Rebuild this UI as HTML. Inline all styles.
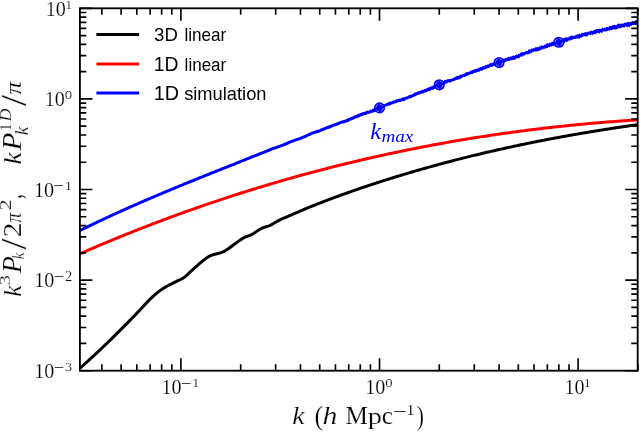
<!DOCTYPE html><html><head><meta charset="utf-8"><style>html,body{margin:0;padding:0;background:#fff;width:640px;height:434px;overflow:hidden}svg{display:block;filter:blur(0.4px)}</style></head><body>
<svg width="640" height="434" viewBox="0 0 640 434">
<rect width="640" height="434" fill="#fff"/>
<defs><clipPath id="c"><rect x="79.9" y="8.3" width="557.8" height="362.4"/></clipPath></defs>
<g clip-path="url(#c)" fill="none" stroke-linejoin="round" stroke-linecap="butt">
<path d="M80.00,368.20 L81.00,367.31 L82.00,366.41 L83.00,365.51 L84.00,364.61 L85.00,363.71 L86.00,362.80 L87.00,361.90 L88.00,360.99 L89.00,360.07 L90.00,359.16 L91.00,358.24 L92.00,357.32 L93.00,356.40 L94.00,355.48 L95.00,354.55 L96.00,353.62 L97.00,352.69 L98.00,351.75 L99.00,350.81 L100.00,349.87 L101.00,348.93 L102.00,347.98 L103.00,347.03 L104.00,346.08 L105.00,345.13 L106.00,344.17 L107.00,343.21 L108.00,342.24 L109.00,341.27 L110.00,340.30 L111.00,339.33 L112.00,338.35 L113.00,337.37 L114.00,336.38 L115.00,335.39 L116.00,334.41 L117.00,333.41 L118.00,332.42 L119.00,331.42 L120.00,330.42 L121.00,329.42 L122.00,328.42 L123.00,327.41 L124.00,326.41 L125.00,325.40 L126.00,324.39 L127.00,323.38 L128.00,322.37 L129.00,321.35 L130.00,320.33 L131.00,319.31 L132.00,318.28 L133.00,317.25 L134.00,316.22 L135.00,315.18 L136.00,314.14 L137.00,313.09 L138.00,312.03 L139.00,310.97 L140.00,309.90 L141.00,308.82 L142.00,307.75 L143.00,306.66 L144.00,305.58 L145.00,304.51 L146.00,303.44 L147.00,302.38 L148.00,301.34 L149.00,300.31 L150.00,299.30 L151.00,298.31 L152.00,297.35 L153.00,296.40 L154.00,295.49 L155.00,294.60 L156.00,293.74 L157.00,292.91 L158.00,292.11 L159.00,291.35 L160.00,290.62 L161.00,289.92 L162.00,289.25 L163.00,288.61 L164.00,287.99 L165.00,287.39 L166.00,286.81 L167.00,286.25 L168.00,285.70 L169.00,285.16 L170.00,284.64 L171.00,284.12 L172.00,283.61 L173.00,283.11 L174.00,282.62 L175.00,282.13 L176.00,281.65 L177.00,281.17 L178.00,280.69 L179.00,280.21 L180.00,279.73 L181.00,279.22 L182.00,278.68 L183.00,278.10 L184.00,277.45 L185.00,276.73 L186.00,275.93 L187.00,275.05 L188.00,274.12 L189.00,273.16 L190.00,272.20 L191.00,271.25 L192.00,270.32 L193.00,269.41 L194.00,268.50 L195.00,267.60 L196.00,266.71 L197.00,265.82 L198.00,264.94 L199.00,264.07 L200.00,263.21 L201.00,262.35 L202.00,261.51 L203.00,260.69 L204.00,259.88 L205.00,259.10 L206.00,258.36 L207.00,257.65 L208.00,257.01 L209.00,256.42 L210.00,255.90 L211.00,255.46 L212.00,255.08 L213.00,254.75 L214.00,254.47 L215.00,254.21 L216.00,253.97 L217.00,253.72 L218.00,253.47 L219.00,253.20 L220.00,252.90 L221.00,252.57 L222.00,252.20 L223.00,251.78 L224.00,251.32 L225.00,250.80 L226.00,250.22 L227.00,249.59 L228.00,248.92 L229.00,248.21 L230.00,247.48 L231.00,246.73 L232.00,245.98 L233.00,245.23 L234.00,244.48 L235.00,243.74 L236.00,243.02 L237.00,242.30 L238.00,241.59 L239.00,240.89 L240.00,240.20 L241.00,239.52 L242.00,238.87 L243.00,238.25 L244.00,237.68 L245.00,237.17 L246.00,236.73 L247.00,236.36 L248.00,236.02 L249.00,235.69 L250.00,235.33 L251.00,234.92 L252.00,234.42 L253.00,233.83 L254.00,233.19 L255.00,232.51 L256.00,231.82 L257.00,231.13 L258.00,230.47 L259.00,229.84 L260.00,229.25 L261.00,228.71 L262.00,228.22 L263.00,227.80 L264.00,227.43 L265.00,227.10 L266.00,226.80 L267.00,226.49 L268.00,226.17 L269.00,225.81 L270.00,225.40 L271.00,224.92 L272.00,224.39 L273.00,223.81 L274.00,223.20 L275.00,222.59 L276.00,221.98 L277.00,221.38 L278.00,220.83 L279.00,220.31 L280.00,219.82 L281.00,219.36 L282.00,218.92 L283.00,218.49 L284.00,218.07 L285.00,217.65 L286.00,217.22 L287.00,216.79 L288.00,216.35 L289.00,215.91 L290.00,215.46 L291.00,215.02 L292.00,214.59 L293.00,214.15 L294.00,213.72 L295.00,213.29 L296.00,212.87 L297.00,212.44 L298.00,212.01 L299.00,211.58 L300.00,211.15 L301.00,210.72 L302.00,210.29 L303.00,209.86 L304.00,209.43 L305.00,209.00 L306.00,208.58 L307.00,208.16 L308.00,207.75 L309.00,207.34 L310.00,206.94 L311.00,206.54 L312.00,206.14 L313.00,205.75 L314.00,205.37 L315.00,204.99 L316.00,204.60 L317.00,204.20 L318.00,203.81 L319.00,203.42 L320.00,203.03 L321.00,202.64 L322.00,202.25 L323.00,201.86 L324.00,201.48 L325.00,201.10 L326.00,200.71 L327.00,200.33 L328.00,199.95 L329.00,199.58 L330.00,199.20 L331.00,198.82 L332.00,198.45 L333.00,198.07 L334.00,197.70 L335.00,197.33 L336.00,196.96 L337.00,196.59 L338.00,196.23 L339.00,195.86 L340.00,195.50 L341.00,195.13 L342.00,194.77 L343.00,194.41 L344.00,194.05 L345.00,193.69 L346.00,193.34 L347.00,192.98 L348.00,192.62 L349.00,192.27 L350.00,191.92 L351.00,191.57 L352.00,191.21 L353.00,190.87 L354.00,190.52 L355.00,190.17 L356.00,189.82 L357.00,189.48 L358.00,189.13 L359.00,188.79 L360.00,188.45 L361.00,188.11 L362.00,187.77 L363.00,187.43 L364.00,187.09 L365.00,186.76 L366.00,186.42 L367.00,186.09 L368.00,185.75 L369.00,185.42 L370.00,185.09 L371.00,184.76 L372.00,184.43 L373.00,184.10 L374.00,183.77 L375.00,183.45 L376.00,183.12 L377.00,182.80 L378.00,182.47 L379.00,182.15 L380.00,181.83 L381.00,181.51 L382.00,181.19 L383.00,180.87 L384.00,180.55 L385.00,180.23 L386.00,179.91 L387.00,179.60 L388.00,179.28 L389.00,178.97 L390.00,178.66 L391.00,178.34 L392.00,178.03 L393.00,177.72 L394.00,177.41 L395.00,177.11 L396.00,176.80 L397.00,176.49 L398.00,176.19 L399.00,175.88 L400.00,175.58 L401.00,175.27 L402.00,174.97 L403.00,174.67 L404.00,174.37 L405.00,174.07 L406.00,173.77 L407.00,173.47 L408.00,173.17 L409.00,172.88 L410.00,172.58 L411.00,172.29 L412.00,172.00 L413.00,171.70 L414.00,171.41 L415.00,171.12 L416.00,170.83 L417.00,170.54 L418.00,170.25 L419.00,169.96 L420.00,169.68 L421.00,169.39 L422.00,169.11 L423.00,168.82 L424.00,168.54 L425.00,168.26 L426.00,167.97 L427.00,167.69 L428.00,167.41 L429.00,167.13 L430.00,166.86 L431.00,166.58 L432.00,166.30 L433.00,166.02 L434.00,165.75 L435.00,165.48 L436.00,165.20 L437.00,164.93 L438.00,164.66 L439.00,164.39 L440.00,164.12 L441.00,163.85 L442.00,163.58 L443.00,163.31 L444.00,163.04 L445.00,162.78 L446.00,162.51 L447.00,162.25 L448.00,161.98 L449.00,161.72 L450.00,161.46 L451.00,161.20 L452.00,160.94 L453.00,160.68 L454.00,160.42 L455.00,160.16 L456.00,159.90 L457.00,159.65 L458.00,159.39 L459.00,159.14 L460.00,158.88 L461.00,158.63 L462.00,158.38 L463.00,158.12 L464.00,157.87 L465.00,157.62 L466.00,157.37 L467.00,157.12 L468.00,156.88 L469.00,156.63 L470.00,156.38 L471.00,156.14 L472.00,155.89 L473.00,155.65 L474.00,155.40 L475.00,155.16 L476.00,154.92 L477.00,154.68 L478.00,154.44 L479.00,154.20 L480.00,153.96 L481.00,153.72 L482.00,153.48 L483.00,153.25 L484.00,153.01 L485.00,152.78 L486.00,152.54 L487.00,152.31 L488.00,152.08 L489.00,151.84 L490.00,151.61 L491.00,151.38 L492.00,151.15 L493.00,150.92 L494.00,150.69 L495.00,150.47 L496.00,150.24 L497.00,150.01 L498.00,149.79 L499.00,149.56 L500.00,149.34 L501.00,149.11 L502.00,148.89 L503.00,148.67 L504.00,148.45 L505.00,148.23 L506.00,148.01 L507.00,147.79 L508.00,147.57 L509.00,147.35 L510.00,147.14 L511.00,146.92 L512.00,146.70 L513.00,146.49 L514.00,146.27 L515.00,146.06 L516.00,145.85 L517.00,145.64 L518.00,145.42 L519.00,145.21 L520.00,145.00 L521.00,144.79 L522.00,144.59 L523.00,144.38 L524.00,144.17 L525.00,143.96 L526.00,143.76 L527.00,143.55 L528.00,143.35 L529.00,143.14 L530.00,142.94 L531.00,142.74 L532.00,142.54 L533.00,142.33 L534.00,142.13 L535.00,141.93 L536.00,141.73 L537.00,141.54 L538.00,141.34 L539.00,141.14 L540.00,140.94 L541.00,140.75 L542.00,140.55 L543.00,140.36 L544.00,140.16 L545.00,139.97 L546.00,139.78 L547.00,139.58 L548.00,139.39 L549.00,139.20 L550.00,139.01 L551.00,138.82 L552.00,138.63 L553.00,138.44 L554.00,138.26 L555.00,138.07 L556.00,137.88 L557.00,137.70 L558.00,137.51 L559.00,137.33 L560.00,137.14 L561.00,136.96 L562.00,136.78 L563.00,136.60 L564.00,136.41 L565.00,136.23 L566.00,136.05 L567.00,135.87 L568.00,135.69 L569.00,135.52 L570.00,135.34 L571.00,135.16 L572.00,134.98 L573.00,134.81 L574.00,134.63 L575.00,134.46 L576.00,134.28 L577.00,134.11 L578.00,133.94 L579.00,133.76 L580.00,133.59 L581.00,133.42 L582.00,133.25 L583.00,133.08 L584.00,132.91 L585.00,132.74 L586.00,132.57 L587.00,132.41 L588.00,132.24 L589.00,132.07 L590.00,131.91 L591.00,131.74 L592.00,131.58 L593.00,131.41 L594.00,131.25 L595.00,131.08 L596.00,130.92 L597.00,130.76 L598.00,130.60 L599.00,130.44 L600.00,130.28 L601.00,130.12 L602.00,129.96 L603.00,129.80 L604.00,129.64 L605.00,129.48 L606.00,129.33 L607.00,129.17 L608.00,129.01 L609.00,128.86 L610.00,128.70 L611.00,128.55 L612.00,128.39 L613.00,128.24 L614.00,128.09 L615.00,127.94 L616.00,127.78 L617.00,127.63 L618.00,127.48 L619.00,127.33 L620.00,127.18 L621.00,127.03 L622.00,126.89 L623.00,126.74 L624.00,126.59 L625.00,126.44 L626.00,126.30 L627.00,126.15 L628.00,126.01 L629.00,125.86 L630.00,125.72 L631.00,125.57 L632.00,125.43 L633.00,125.29 L634.00,125.14 L635.00,125.00 L636.00,124.86 L637.00,124.72" stroke="#000" stroke-width="3"/>
<path d="M80.00,253.75 L81.50,253.09 L83.00,252.44 L84.50,251.79 L86.00,251.14 L87.50,250.49 L89.00,249.84 L90.50,249.20 L92.00,248.55 L93.50,247.91 L95.00,247.27 L96.50,246.63 L98.00,245.99 L99.50,245.36 L101.00,244.73 L102.50,244.09 L104.00,243.46 L105.50,242.84 L107.00,242.21 L108.50,241.58 L110.00,240.96 L111.50,240.34 L113.00,239.72 L114.50,239.10 L116.00,238.49 L117.50,237.87 L119.00,237.26 L120.50,236.65 L122.00,236.04 L123.50,235.43 L125.00,234.83 L126.50,234.22 L128.00,233.62 L129.50,233.02 L131.00,232.42 L132.50,231.83 L134.00,231.23 L135.50,230.64 L137.00,230.04 L138.50,229.45 L140.00,228.87 L141.50,228.28 L143.00,227.69 L144.50,227.11 L146.00,226.53 L147.50,225.95 L149.00,225.37 L150.50,224.79 L152.00,224.22 L153.50,223.65 L155.00,223.07 L156.50,222.50 L158.00,221.94 L159.50,221.37 L161.00,220.80 L162.50,220.24 L164.00,219.68 L165.50,219.12 L167.00,218.56 L168.50,218.01 L170.00,217.45 L171.50,216.90 L173.00,216.35 L174.50,215.80 L176.00,215.25 L177.50,214.70 L179.00,214.16 L180.50,213.61 L182.00,213.07 L183.50,212.53 L185.00,212.00 L186.50,211.46 L188.00,210.93 L189.50,210.39 L191.00,209.86 L192.50,209.33 L194.00,208.80 L195.50,208.28 L197.00,207.75 L198.50,207.23 L200.00,206.71 L201.50,206.19 L203.00,205.67 L204.50,205.15 L206.00,204.64 L207.50,204.13 L209.00,203.61 L210.50,203.10 L212.00,202.60 L213.50,202.09 L215.00,201.58 L216.50,201.08 L218.00,200.58 L219.50,200.08 L221.00,199.58 L222.50,199.09 L224.00,198.59 L225.50,198.10 L227.00,197.60 L228.50,197.11 L230.00,196.63 L231.50,196.14 L233.00,195.65 L234.50,195.17 L236.00,194.69 L237.50,194.21 L239.00,193.73 L240.50,193.25 L242.00,192.78 L243.50,192.30 L245.00,191.83 L246.50,191.36 L248.00,190.89 L249.50,190.42 L251.00,189.96 L252.50,189.49 L254.00,189.03 L255.50,188.57 L257.00,188.11 L258.50,187.65 L260.00,187.20 L261.50,186.74 L263.00,186.29 L264.50,185.84 L266.00,185.39 L267.50,184.94 L269.00,184.49 L270.50,184.05 L272.00,183.60 L273.50,183.16 L275.00,182.72 L276.50,182.28 L278.00,181.85 L279.50,181.41 L281.00,180.98 L282.50,180.54 L284.00,180.11 L285.50,179.68 L287.00,179.26 L288.50,178.83 L290.00,178.41 L291.50,177.98 L293.00,177.56 L294.50,177.14 L296.00,176.72 L297.50,176.31 L299.00,175.89 L300.50,175.48 L302.00,175.07 L303.50,174.66 L305.00,174.25 L306.50,173.84 L308.00,173.43 L309.50,173.03 L311.00,172.63 L312.50,172.23 L314.00,171.83 L315.50,171.43 L317.00,171.03 L318.50,170.64 L320.00,170.25 L321.50,169.85 L323.00,169.46 L324.50,169.08 L326.00,168.69 L327.50,168.30 L329.00,167.92 L330.50,167.54 L332.00,167.16 L333.50,166.78 L335.00,166.40 L336.50,166.02 L338.00,165.65 L339.50,165.28 L341.00,164.90 L342.50,164.53 L344.00,164.17 L345.50,163.80 L347.00,163.43 L348.50,163.07 L350.00,162.71 L351.50,162.35 L353.00,161.99 L354.50,161.63 L356.00,161.27 L357.50,160.92 L359.00,160.56 L360.50,160.21 L362.00,159.86 L363.50,159.51 L365.00,159.17 L366.50,158.82 L368.00,158.48 L369.50,158.13 L371.00,157.79 L372.50,157.45 L374.00,157.12 L375.50,156.78 L377.00,156.44 L378.50,156.11 L380.00,155.78 L381.50,155.45 L383.00,155.12 L384.50,154.79 L386.00,154.46 L387.50,154.14 L389.00,153.82 L390.50,153.50 L392.00,153.17 L393.50,152.86 L395.00,152.54 L396.50,152.22 L398.00,151.91 L399.50,151.60 L401.00,151.29 L402.50,150.98 L404.00,150.67 L405.50,150.36 L407.00,150.05 L408.50,149.75 L410.00,149.45 L411.50,149.15 L413.00,148.85 L414.50,148.55 L416.00,148.25 L417.50,147.96 L419.00,147.67 L420.50,147.37 L422.00,147.08 L423.50,146.79 L425.00,146.51 L426.50,146.22 L428.00,145.93 L429.50,145.65 L431.00,145.37 L432.50,145.09 L434.00,144.81 L435.50,144.53 L437.00,144.26 L438.50,143.98 L440.00,143.71 L441.50,143.44 L443.00,143.17 L444.50,142.90 L446.00,142.63 L447.50,142.37 L449.00,142.10 L450.50,141.84 L452.00,141.58 L453.50,141.32 L455.00,141.06 L456.50,140.80 L458.00,140.54 L459.50,140.29 L461.00,140.04 L462.50,139.79 L464.00,139.53 L465.50,139.29 L467.00,139.04 L468.50,138.79 L470.00,138.55 L471.50,138.31 L473.00,138.06 L474.50,137.82 L476.00,137.59 L477.50,137.35 L479.00,137.11 L480.50,136.88 L482.00,136.64 L483.50,136.41 L485.00,136.18 L486.50,135.95 L488.00,135.73 L489.50,135.50 L491.00,135.28 L492.50,135.05 L494.00,134.83 L495.50,134.61 L497.00,134.39 L498.50,134.17 L500.00,133.96 L501.50,133.74 L503.00,133.53 L504.50,133.32 L506.00,133.11 L507.50,132.90 L509.00,132.69 L510.50,132.48 L512.00,132.28 L513.50,132.07 L515.00,131.87 L516.50,131.67 L518.00,131.47 L519.50,131.27 L521.00,131.08 L522.50,130.88 L524.00,130.69 L525.50,130.49 L527.00,130.30 L528.50,130.11 L530.00,129.92 L531.50,129.74 L533.00,129.55 L534.50,129.37 L536.00,129.18 L537.50,129.00 L539.00,128.82 L540.50,128.64 L542.00,128.47 L543.50,128.29 L545.00,128.11 L546.50,127.94 L548.00,127.77 L549.50,127.60 L551.00,127.43 L552.50,127.26 L554.00,127.09 L555.50,126.93 L557.00,126.76 L558.50,126.60 L560.00,126.44 L561.50,126.28 L563.00,126.12 L564.50,125.96 L566.00,125.81 L567.50,125.65 L569.00,125.50 L570.50,125.35 L572.00,125.20 L573.50,125.05 L575.00,124.90 L576.50,124.75 L578.00,124.61 L579.50,124.47 L581.00,124.32 L582.50,124.18 L584.00,124.04 L585.50,123.90 L587.00,123.77 L588.50,123.63 L590.00,123.49 L591.50,123.36 L593.00,123.23 L594.50,123.10 L596.00,122.97 L597.50,122.84 L599.00,122.71 L600.50,122.59 L602.00,122.47 L603.50,122.34 L605.00,122.22 L606.50,122.10 L608.00,121.98 L609.50,121.86 L611.00,121.75 L612.50,121.63 L614.00,121.52 L615.50,121.41 L617.00,121.30 L618.50,121.19 L620.00,121.08 L621.50,120.97 L623.00,120.86 L624.50,120.76 L626.00,120.66 L627.50,120.55 L629.00,120.45 L630.50,120.35 L632.00,120.26 L633.50,120.16 L635.00,120.06 L636.50,119.97 L637.70,119.89" stroke="#f00" stroke-width="3"/>
<path d="M78.33,229.66 L79.04,229.31 L79.74,228.96 L80.44,228.62 L81.14,228.27 L81.84,227.93 L82.54,227.58 L83.24,227.24 L83.94,226.90 L84.64,226.55 L85.34,226.21 L86.04,225.87 L86.74,225.53 L87.45,225.19 L88.15,224.85 L88.85,224.51 L89.55,224.18 L90.25,223.84 L90.95,223.50 L91.65,223.16 L92.35,222.83 L93.05,222.49 L93.75,222.16 L94.45,221.82 L95.16,221.49 L95.86,221.16 L96.56,220.82 L97.26,220.49 L97.96,220.16 L98.66,219.83 L99.36,219.50 L100.06,219.17 L100.76,218.84 L101.46,218.51 L102.16,218.18 L102.86,217.85 L103.57,217.52 L104.27,217.20 L104.97,216.87 L105.67,216.54 L106.37,216.22 L107.07,215.89 L107.77,215.57 L108.47,215.24 L109.17,214.92 L109.87,214.60 L110.57,214.27 L111.27,213.95 L111.97,213.63 L112.68,213.31 L113.38,212.99 L114.08,212.67 L114.78,212.35 L115.48,212.03 L116.18,211.71 L116.88,211.39 L117.58,211.07 L118.28,210.75 L118.98,210.44 L119.68,210.12 L120.38,209.80 L121.08,209.49 L121.78,209.17 L122.49,208.86 L123.19,208.54 L123.89,208.23 L124.59,207.92 L125.29,207.60 L125.99,207.29 L126.69,206.98 L127.39,206.66 L128.09,206.35 L128.79,206.04 L129.49,205.73 L130.19,205.42 L130.89,205.11 L131.59,204.80 L132.29,204.49 L133.00,204.18 L133.70,203.87 L134.40,203.57 L135.10,203.26 L135.80,202.95 L136.50,202.65 L137.20,202.34 L137.90,202.03 L138.60,201.73 L139.30,201.42 L140.00,201.12 L140.70,200.81 L141.40,200.51 L142.10,200.20 L142.80,199.90 L143.50,199.60 L144.21,199.30 L144.91,198.99 L145.61,198.69 L146.31,198.39 L147.01,198.09 L147.71,197.79 L148.41,197.49 L149.11,197.19 L149.81,196.89 L150.51,196.59 L151.21,196.29 L151.91,195.99 L152.61,195.69 L153.31,195.39 L154.01,195.09 L154.71,194.80 L155.41,194.50 L156.11,194.20 L156.82,193.90 L157.52,193.61 L158.22,193.31 L158.92,193.02 L159.62,192.72 L160.32,192.43 L161.02,192.13 L161.72,191.84 L162.42,191.54 L163.12,191.25 L163.82,190.95 L164.52,190.66 L165.22,190.37 L165.92,190.08 L166.62,189.78 L167.32,189.49 L168.02,189.20 L168.72,188.91 L169.42,188.61 L170.12,188.32 L170.82,188.03 L171.53,187.74 L172.23,187.45 L172.93,187.16 L173.63,186.87 L174.33,186.58 L175.03,186.29 L175.73,186.00 L176.43,185.71 L177.13,185.43 L177.83,185.14 L178.53,184.85 L179.23,184.56 L179.93,184.27 L180.63,183.99 L181.33,183.70 L182.03,183.41 L182.73,183.12 L183.43,182.84 L184.13,182.55 L184.83,182.26 L185.53,181.98 L186.23,181.69 L186.93,181.41 L187.63,181.12 L188.33,180.84 L189.03,180.55 L189.74,180.27 L190.44,179.98 L191.14,179.70 L191.84,179.41 L192.54,179.13 L193.24,178.85 L193.94,178.56 L194.64,178.28 L195.34,177.99 L196.04,177.71 L196.74,177.43 L197.44,177.15 L198.14,176.86 L198.84,176.58 L199.54,176.30 L200.24,176.02 L200.94,175.73 L201.64,175.45 L202.34,175.17 L203.04,174.89 L203.74,174.61 L204.44,174.33 L205.14,174.04 L205.84,173.76 L206.54,173.48 L207.24,173.20 L207.94,172.92 L208.64,172.64 L209.34,172.36 L210.04,172.08 L210.74,171.80 L211.44,171.52 L212.14,171.24 L212.84,170.96 L213.54,170.68 L214.24,170.40 L214.94,170.12 L215.64,169.84 L216.34,169.56 L217.04,169.28 L217.74,169.00 L218.44,168.72 L219.14,168.44 L219.84,168.17 L220.55,167.89 L221.25,167.61 L221.95,167.33 L222.65,167.05 L223.35,166.77 L224.05,166.49 L224.75,166.22 L225.45,165.94 L226.15,165.66 L226.85,165.38 L227.55,165.10 L228.25,164.83 L228.95,164.55 L229.65,164.27 L230.35,164.00 L231.05,163.72 L231.75,163.45 L232.45,163.18 L233.15,162.91 L233.85,162.63 L234.55,162.36 L235.25,162.08 L235.95,161.80 L236.65,161.51 L237.35,161.23 L238.05,160.94 L238.75,160.66 L239.45,160.37 L240.15,160.08 L240.85,159.78 L241.55,159.50 L242.25,159.21 L242.95,158.93 L243.65,158.66 L244.35,158.38 L245.05,158.10 L245.75,157.83 L246.45,157.53 L247.15,157.27 L247.85,156.98 L248.55,156.70 L249.26,156.45 L249.95,156.14 L250.65,155.87 L251.35,155.57 L252.05,155.29 L252.75,155.01 L253.44,154.70 L254.16,154.47 L254.85,154.15 L255.56,153.89 L256.26,153.64 L256.94,153.33 L257.65,153.08 L258.34,152.79 L259.05,152.55 L259.76,152.32 L260.44,152.00 L261.17,151.82 L261.87,151.56 L262.54,151.23 L263.26,150.98 L263.96,150.69 L264.64,150.34 L265.36,150.10 L266.04,149.74 L266.75,149.47 L267.46,149.20 L268.18,148.93 L268.87,148.62 L269.53,148.25 L270.26,148.05 L270.97,147.82 L271.67,147.56 L272.33,147.23 L273.07,147.08 L273.74,146.75 L274.48,146.60 L275.13,146.23 L275.85,146.05 L276.58,145.87 L277.23,145.48 L277.97,145.32 L278.64,145.00 L279.35,144.77 L280.08,144.59 L280.78,144.33 L281.48,144.07 L282.18,143.81 L282.89,143.57 L283.59,143.30 L284.22,142.84 L284.99,142.71 L285.66,142.33 L286.39,142.10 L287.08,141.78 L287.74,141.36 L288.42,141.02 L289.16,140.81 L289.90,140.62 L290.52,140.13 L291.30,140.07 L291.97,139.75 L292.66,139.49 L293.32,139.17 L294.03,138.96 L294.75,138.78 L295.47,138.60 L296.13,138.26 L296.83,138.01 L297.52,137.76 L298.24,137.54 L299.00,137.43 L299.68,137.10 L300.36,136.77 L301.06,136.49 L301.73,136.12 L302.49,136.00 L303.14,135.61 L303.87,135.39 L304.53,134.98 L305.29,134.82 L305.96,134.42 L306.70,134.18 L307.39,133.81 L308.01,133.26 L308.78,133.10 L309.41,132.59 L310.15,132.36 L310.91,132.19 L311.52,131.67 L312.31,131.64 L312.92,131.17 L313.71,131.22 L314.33,130.81 L315.09,130.77 L315.77,130.52 L316.40,130.12 L317.15,130.07 L317.83,129.79 L318.52,129.52 L319.30,129.46 L319.91,128.93 L320.60,128.59 L321.40,128.54 L322.04,128.09 L322.78,127.87 L323.42,127.40 L324.21,127.34 L324.85,126.88 L325.51,126.49 L326.22,126.24 L327.00,126.21 L327.60,125.70 L328.39,125.67 L329.00,125.21 L329.75,125.08 L330.50,124.96 L331.11,124.50 L331.80,124.21 L332.52,123.99 L333.18,123.61 L333.98,123.61 L334.68,123.33 L335.40,123.08 L336.04,122.64 L336.76,122.41 L337.47,122.14 L338.15,121.81 L338.88,121.62 L339.62,121.48 L340.25,121.05 L340.98,120.91 L341.65,120.62 L342.27,120.20 L343.09,120.32 L343.72,119.91 L344.41,119.69 L345.18,119.64 L345.84,119.32 L346.46,118.85 L347.26,118.86 L347.90,118.40 L348.58,118.04 L349.36,117.96 L349.95,117.36 L350.71,117.23 L351.43,116.98 L352.09,116.58 L352.85,116.41 L353.49,115.97 L354.27,115.87 L354.85,115.25 L355.62,115.12 L356.38,114.96 L357.04,114.56 L357.65,114.02 L358.37,113.76 L359.13,113.61 L359.86,113.39 L360.55,113.11 L361.13,112.55 L362.00,112.77 L362.55,112.15 L363.25,111.95 L364.08,112.07 L364.76,111.79 L365.41,111.45 L366.06,111.11 L366.73,110.81 L367.42,110.57 L368.27,110.72 L368.99,110.54 L369.62,110.14 L370.31,109.86 L370.99,109.57 L371.80,109.64 L372.39,109.10 L373.03,108.70 L373.73,108.45 L374.42,108.15 L375.12,107.86 L375.81,107.52 L376.72,107.70 L377.22,106.86 L378.07,106.90 L378.75,106.54 L379.42,106.12 L380.01,105.49 L380.79,105.37 L381.55,105.20 L382.24,104.89 L382.82,104.28 L383.53,104.04 L384.39,104.17 L385.07,103.82 L385.74,103.47 L386.48,103.28 L387.09,102.78 L387.87,102.72 L388.49,102.23 L389.10,101.74 L389.82,101.54 L390.70,101.77 L391.38,101.45 L392.03,101.07 L392.67,100.67 L393.43,100.59 L394.17,100.43 L394.84,100.13 L395.58,100.00 L396.11,99.35 L396.85,99.26 L397.62,99.25 L398.25,98.86 L398.99,98.79 L399.69,98.59 L400.43,98.50 L401.10,98.22 L401.67,97.67 L402.42,97.58 L403.11,97.31 L404.00,97.54 L404.60,97.01 L405.33,96.84 L406.11,96.77 L406.72,96.29 L407.51,96.25 L408.17,95.87 L408.71,95.19 L409.44,94.98 L410.14,94.67 L411.01,94.81 L411.69,94.44 L412.43,94.23 L413.11,93.86 L413.80,93.54 L414.26,92.60 L414.98,92.33 L415.88,92.55 L416.56,92.23 L417.06,91.43 L417.87,91.47 L418.63,91.38 L419.30,91.07 L420.06,90.98 L420.66,90.50 L421.32,90.16 L422.08,90.08 L422.69,89.59 L423.60,89.88 L424.16,89.24 L424.74,88.67 L425.69,89.04 L426.29,88.49 L426.95,88.11 L427.74,88.06 L428.24,87.28 L429.09,87.38 L429.79,87.10 L430.36,86.45 L431.33,86.85 L431.77,85.84 L432.70,86.10 L433.32,85.56 L433.99,85.14 L434.69,84.81 L435.53,84.84 L436.14,84.27 L436.83,83.91 L437.34,83.09 L438.05,82.80 L438.85,82.77 L439.44,82.16 L440.16,81.91 L441.02,82.01 L441.81,81.93 L442.35,81.20 L443.14,81.14 L443.94,81.13 L444.32,80.03 L445.03,79.81 L445.87,79.97 L446.54,79.71 L447.22,79.48 L447.84,79.06 L448.69,79.27 L449.35,78.98 L450.17,79.11 L450.87,78.88 L451.47,78.41 L452.27,78.42 L453.04,78.34 L453.62,77.75 L454.19,77.13 L455.06,77.28 L455.55,76.47 L456.31,76.33 L457.03,76.10 L457.64,75.59 L458.63,76.06 L459.29,75.68 L459.74,74.71 L460.44,74.42 L461.43,74.90 L461.88,73.96 L462.85,74.38 L463.51,73.97 L464.22,73.71 L464.85,73.24 L465.52,72.87 L466.03,72.08 L466.90,72.25 L467.71,72.27 L468.36,71.85 L469.16,71.82 L469.85,71.52 L470.40,70.85 L471.07,70.49 L471.87,70.47 L472.52,70.08 L473.32,70.10 L473.82,69.31 L474.62,69.34 L475.40,69.33 L475.98,68.77 L476.79,68.82 L477.46,68.50 L478.22,68.44 L478.67,67.53 L479.56,67.80 L480.01,66.87 L480.91,67.18 L481.71,67.19 L482.20,66.37 L482.89,66.09 L483.53,65.69 L484.52,66.22 L484.97,65.28 L485.64,64.95 L486.55,65.27 L487.20,64.84 L487.83,64.39 L488.68,64.50 L489.14,63.55 L489.90,63.45 L490.54,63.00 L491.40,63.14 L492.07,62.79 L492.90,62.86 L493.55,62.46 L494.09,61.75 L494.70,61.25 L495.72,61.87 L496.46,61.73 L497.15,61.46 L497.71,60.81 L498.27,60.17 L499.19,60.54 L499.79,60.02 L500.48,59.74 L501.05,59.15 L502.02,59.66 L502.78,59.60 L503.28,58.83 L504.04,58.77 L504.77,58.61 L505.28,57.84 L506.01,57.72 L506.95,58.18 L507.47,57.44 L508.07,56.95 L508.72,56.62 L509.79,57.47 L510.16,56.35 L511.17,57.04 L511.61,56.12 L512.35,56.02 L512.90,55.42 L513.74,55.58 L514.67,56.00 L515.12,55.05 L515.99,55.27 L516.45,54.31 L517.48,54.97 L518.06,54.34 L518.62,53.64 L519.53,53.98 L520.03,53.11 L520.71,52.77 L521.40,52.44 L522.04,51.99 L522.93,52.26 L523.74,52.30 L524.39,51.88 L525.04,51.44 L525.88,51.56 L526.31,50.48 L527.28,50.99 L527.98,50.73 L528.32,49.39 L529.07,49.29 L530.00,49.72 L530.67,49.38 L531.16,48.54 L531.95,48.56 L532.80,48.76 L533.42,48.29 L533.95,47.55 L535.01,48.39 L535.30,46.91 L536.18,47.23 L537.04,47.51 L537.48,46.51 L538.48,47.23 L539.04,46.59 L539.68,46.17 L540.51,46.38 L540.94,45.35 L541.72,45.38 L542.65,45.84 L543.36,45.60 L544.10,45.47 L544.58,44.54 L545.44,44.78 L545.99,44.05 L546.58,43.42 L547.25,43.08 L548.28,43.82 L548.89,43.28 L549.55,42.92 L550.27,42.73 L550.95,42.45 L551.63,42.17 L552.21,41.54 L553.10,41.92 L553.79,41.65 L554.47,41.36 L555.27,41.46 L555.77,40.60 L556.56,40.71 L557.04,39.81 L557.79,39.75 L558.74,40.38 L559.44,40.19 L559.90,39.27 L560.70,39.40 L561.64,39.98 L562.07,38.95 L562.87,39.07 L563.41,38.31 L564.12,38.13 L564.75,37.62 L565.55,37.66 L566.16,37.08 L567.13,37.69 L567.81,37.34 L568.63,37.46 L568.98,36.04 L569.99,36.81 L570.52,36.02 L571.24,35.88 L571.81,35.27 L572.69,35.73 L573.50,35.93 L574.10,35.43 L574.94,35.76 L575.54,35.24 L576.10,34.61 L577.04,35.28 L577.35,33.74 L578.24,34.20 L579.04,34.34 L579.52,33.34 L580.51,34.14 L581.14,33.65 L581.58,32.52 L582.58,33.34 L583.07,32.39 L584.05,33.17 L584.56,32.31 L585.21,31.94 L586.10,32.46 L586.75,32.14 L587.36,31.65 L588.04,31.45 L588.93,31.97 L589.52,31.43 L589.98,30.39 L590.96,31.27 L591.48,30.41 L592.42,31.14 L593.01,30.56 L593.69,30.30 L594.36,30.00 L595.02,29.63 L595.69,29.33 L596.43,29.30 L597.09,28.96 L597.76,28.66 L598.68,29.36 L599.19,28.39 L600.01,28.69 L600.82,28.92 L601.55,28.87 L602.03,27.76 L602.78,27.78 L603.70,28.50 L604.20,27.50 L605.11,28.19 L605.68,27.47 L606.32,27.01 L606.99,26.72 L607.88,27.35 L608.62,27.37 L609.13,26.35 L609.74,25.79 L610.45,25.67 L611.32,26.22 L611.94,25.70 L612.59,25.29 L613.24,24.85 L614.08,25.29 L614.65,24.46 L615.55,25.19 L616.29,25.16 L616.96,24.85 L617.52,23.93 L618.17,23.49 L619.01,24.01 L619.64,23.48 L620.53,24.29 L621.11,23.56 L621.84,23.58 L622.54,23.49 L623.32,23.81 L623.89,22.98 L624.58,22.81 L625.29,22.78 L625.96,22.49 L626.76,22.85 L627.34,22.03 L628.13,22.36 L628.74,21.66 L629.59,22.30 L630.21,21.64 L631.06,22.35 L631.79,22.38 L632.26,20.74 L633.12,21.58 L633.91,22.03 L634.46,20.92 L635.08,20.27 L635.83,20.49 L636.48,20.03 L637.20,20.05 L638.02,20.82 L638.58,24.73 L638.01,25.70 L637.29,25.59 L636.46,24.74 L635.79,25.00 L635.16,25.51 L634.28,24.43 L633.68,25.15 L632.95,25.04 L632.23,25.05 L631.60,25.66 L631.00,26.39 L630.12,25.45 L629.68,27.15 L628.97,27.18 L628.07,26.19 L627.56,27.39 L626.78,27.00 L625.99,26.58 L625.23,26.35 L624.73,27.49 L624.02,27.48 L623.31,27.53 L622.48,26.89 L621.89,27.56 L621.26,28.00 L620.60,28.32 L619.74,27.64 L619.22,28.67 L618.34,27.95 L617.81,28.94 L617.10,29.08 L616.47,29.57 L615.68,29.30 L615.08,29.93 L614.16,29.08 L613.50,29.46 L612.72,29.25 L612.21,30.23 L611.55,30.55 L610.60,29.58 L610.05,30.39 L609.35,30.56 L608.54,30.23 L608.05,31.29 L607.19,30.72 L606.56,31.21 L605.99,31.89 L604.99,30.80 L604.45,31.63 L603.60,31.18 L602.94,31.49 L602.43,32.45 L601.81,32.92 L601.01,32.69 L600.10,32.04 L599.76,33.62 L598.98,33.47 L598.02,32.61 L597.50,33.48 L596.65,33.06 L596.08,33.74 L595.48,34.28 L594.71,34.17 L593.83,33.66 L593.25,34.28 L592.81,35.43 L591.75,34.21 L591.06,34.39 L590.54,35.21 L589.69,34.80 L588.93,34.68 L588.30,35.09 L587.84,36.10 L587.15,36.26 L586.49,36.55 L585.69,36.38 L584.82,35.94 L584.25,36.57 L583.43,36.35 L582.80,36.81 L582.16,37.23 L581.49,37.54 L580.76,37.66 L580.06,37.85 L579.55,38.71 L578.72,38.44 L577.96,38.43 L577.29,38.68 L576.52,38.58 L575.90,39.01 L575.06,38.68 L574.39,38.94 L573.63,38.88 L573.06,39.46 L572.35,39.58 L571.70,39.97 L570.86,39.69 L570.45,40.91 L569.39,39.96 L568.94,41.06 L568.00,40.54 L567.61,41.82 L566.93,42.15 L566.00,41.69 L565.19,41.59 L564.87,43.03 L564.00,42.72 L563.24,42.70 L562.49,42.72 L561.66,42.48 L561.00,42.77 L560.43,43.35 L559.72,43.50 L559.10,43.94 L558.34,43.91 L557.52,43.73 L557.12,44.87 L556.48,45.27 L555.69,45.19 L554.72,44.57 L554.37,45.89 L553.68,46.14 L552.71,45.51 L552.28,46.58 L551.58,46.82 L550.53,45.97 L550.13,47.14 L549.37,47.21 L548.44,46.74 L547.97,47.71 L547.25,47.91 L546.58,48.27 L545.69,47.95 L545.23,48.94 L544.38,48.73 L543.52,48.48 L543.17,49.77 L542.12,48.92 L541.52,49.42 L541.10,50.48 L540.08,49.71 L539.70,50.90 L538.87,50.70 L538.17,50.90 L537.47,51.12 L536.90,51.73 L535.90,51.06 L535.47,52.08 L534.39,51.18 L533.77,51.65 L533.25,52.42 L532.33,51.99 L531.89,52.99 L531.00,52.67 L530.60,53.81 L529.71,53.49 L529.06,53.90 L528.42,54.33 L527.77,54.76 L526.76,54.12 L526.13,54.62 L525.35,54.66 L524.86,55.56 L524.05,55.51 L523.22,55.42 L522.77,56.43 L521.92,56.26 L521.40,57.07 L520.41,56.50 L519.87,57.26 L519.38,58.15 L518.62,58.24 L517.92,58.52 L517.12,58.53 L516.26,58.32 L515.82,59.32 L515.16,59.64 L514.44,59.79 L513.68,59.81 L513.04,60.17 L512.18,59.92 L511.58,60.39 L510.62,59.84 L510.29,61.06 L509.43,60.80 L508.71,60.96 L508.00,61.13 L507.20,61.06 L506.45,61.14 L506.06,62.24 L505.04,61.58 L504.53,62.33 L503.79,62.44 L503.25,63.11 L502.23,62.45 L501.76,63.32 L501.06,63.56 L500.16,63.23 L499.44,63.44 L498.77,63.77 L498.10,64.08 L497.56,64.77 L496.86,65.04 L496.20,65.39 L495.54,65.75 L494.87,66.10 L494.04,66.00 L493.29,66.14 L492.77,66.91 L491.90,66.71 L491.11,66.77 L490.34,66.86 L489.80,67.58 L489.04,67.69 L488.36,68.01 L487.69,68.37 L486.97,68.58 L486.25,68.78 L485.58,69.10 L485.00,69.67 L484.04,69.22 L483.48,69.85 L482.83,70.24 L482.25,70.82 L481.42,70.71 L480.56,70.51 L480.03,71.20 L479.42,71.67 L478.59,71.58 L478.04,72.21 L477.21,72.07 L476.53,72.38 L475.79,72.51 L475.29,73.27 L474.28,72.69 L473.62,73.04 L473.15,73.91 L472.39,74.02 L471.55,73.91 L470.87,74.26 L470.37,75.07 L469.40,74.62 L468.79,75.13 L468.14,75.55 L467.25,75.34 L466.78,76.24 L465.94,76.15 L465.23,76.39 L464.70,77.13 L463.78,76.85 L463.05,77.05 L462.37,77.40 L461.98,78.52 L461.00,78.07 L460.59,79.13 L459.63,78.73 L459.19,79.68 L458.23,79.29 L457.66,79.90 L456.84,79.86 L456.17,80.21 L455.51,80.61 L454.71,80.61 L454.05,81.01 L453.38,81.34 L452.56,81.28 L452.04,81.97 L451.15,81.69 L450.74,82.64 L449.89,82.42 L449.12,82.44 L448.39,82.55 L447.66,82.65 L447.21,83.48 L446.33,83.23 L445.76,83.80 L444.91,83.66 L444.35,84.32 L443.63,84.55 L443.03,85.13 L442.11,84.85 L441.54,85.52 L440.84,85.82 L440.18,86.22 L439.53,86.66 L438.58,86.32 L438.08,87.17 L437.34,87.39 L436.75,88.01 L436.02,88.27 L435.11,88.07 L434.67,89.08 L433.79,88.94 L433.24,89.67 L432.53,89.96 L431.68,89.87 L430.96,90.14 L430.38,90.74 L429.66,90.96 L428.94,91.17 L428.18,91.32 L427.44,91.48 L426.93,92.24 L426.13,92.26 L425.31,92.24 L424.58,92.43 L423.99,92.96 L423.46,93.64 L422.50,93.20 L421.95,93.84 L421.11,93.71 L420.38,93.86 L419.94,94.79 L418.97,94.32 L418.48,95.11 L417.64,95.02 L416.93,95.26 L416.34,95.85 L415.67,96.24 L414.80,96.11 L414.31,96.96 L413.38,96.69 L412.69,97.03 L412.21,97.90 L411.41,97.97 L410.77,98.41 L409.94,98.36 L409.23,98.61 L408.52,98.86 L407.99,99.56 L407.13,99.40 L406.39,99.57 L405.69,99.83 L405.19,100.61 L404.52,100.95 L403.83,101.22 L402.96,100.99 L402.18,101.01 L401.61,101.53 L400.93,101.77 L400.24,101.99 L399.45,101.96 L398.69,102.00 L398.13,102.55 L397.37,102.60 L396.73,102.97 L396.03,103.20 L395.40,103.62 L394.50,103.35 L393.90,103.86 L393.22,104.16 L392.42,104.14 L391.71,104.36 L391.19,105.07 L390.38,105.05 L389.74,105.47 L389.04,105.74 L388.19,105.61 L387.51,105.96 L386.78,106.15 L386.12,106.56 L385.40,106.77 L384.79,107.30 L384.17,107.79 L383.46,108.05 L382.68,108.15 L381.91,108.27 L381.35,108.96 L380.69,109.39 L379.84,109.36 L379.10,109.59 L378.55,110.30 L377.85,110.64 L377.12,110.91 L376.32,110.97 L375.76,111.63 L374.99,111.74 L374.32,112.06 L373.64,112.35 L372.96,112.64 L372.24,112.82 L371.55,113.09 L370.73,113.01 L370.13,113.50 L369.40,113.66 L368.69,113.88 L367.88,113.81 L367.24,114.18 L366.64,114.65 L365.92,114.81 L365.16,114.89 L364.43,115.02 L363.87,115.60 L363.03,115.44 L362.37,115.78 L361.76,116.27 L360.95,116.24 L360.32,116.72 L359.60,116.98 L358.91,117.29 L358.21,117.60 L357.51,117.91 L356.80,118.20 L355.98,118.20 L355.37,118.74 L354.72,119.18 L353.88,119.10 L353.36,119.87 L352.53,119.84 L351.94,120.43 L351.09,120.34 L350.42,120.74 L349.72,121.04 L349.09,121.52 L348.38,121.78 L347.72,122.16 L347.03,122.43 L346.25,122.45 L345.49,122.51 L344.92,123.07 L344.21,123.25 L343.53,123.51 L342.79,123.61 L341.99,123.57 L341.36,123.97 L340.61,124.07 L339.92,124.34 L339.31,124.84 L338.55,124.97 L337.87,125.31 L337.18,125.63 L336.40,125.70 L335.68,125.95 L335.10,126.55 L334.30,126.55 L333.61,126.84 L332.94,127.20 L332.18,127.30 L331.54,127.70 L330.84,127.94 L330.21,128.38 L329.52,128.64 L328.78,128.79 L328.08,129.02 L327.37,129.25 L326.61,129.38 L325.96,129.78 L325.31,130.20 L324.52,130.29 L323.89,130.76 L323.18,131.07 L322.39,131.14 L321.74,131.57 L321.02,131.82 L320.30,132.07 L319.69,132.57 L319.01,132.86 L318.24,132.91 L317.55,133.14 L316.87,133.38 L316.13,133.46 L315.43,133.68 L314.69,133.77 L314.01,134.03 L313.38,134.42 L312.62,134.54 L311.90,134.77 L311.22,135.13 L310.55,135.55 L309.88,135.97 L309.10,136.09 L308.42,136.48 L307.73,136.85 L307.05,137.26 L306.37,137.61 L305.68,137.98 L304.97,138.24 L304.26,138.50 L303.49,138.61 L302.83,138.98 L302.17,139.37 L301.46,139.61 L300.70,139.75 L300.03,140.10 L299.37,140.46 L298.61,140.56 L297.93,140.87 L297.21,141.05 L296.51,141.28 L295.81,141.53 L295.12,141.77 L294.40,141.97 L293.71,142.22 L293.00,142.42 L292.35,142.79 L291.64,143.03 L290.90,143.22 L290.20,143.50 L289.58,144.01 L288.83,144.18 L288.15,144.53 L287.48,144.91 L286.78,145.22 L286.03,145.40 L285.33,145.70 L284.65,146.02 L283.97,146.35 L283.22,146.50 L282.57,146.87 L281.85,147.09 L281.15,147.33 L280.44,147.56 L279.77,147.90 L279.03,148.06 L278.35,148.35 L277.67,148.67 L276.94,148.84 L276.26,149.13 L275.54,149.33 L274.82,149.52 L274.16,149.86 L273.45,150.08 L272.75,150.35 L272.05,150.58 L271.34,150.82 L270.65,151.10 L269.96,151.42 L269.27,151.73 L268.53,151.93 L267.86,152.31 L267.13,152.54 L266.46,152.91 L265.73,153.14 L265.05,153.47 L264.36,153.79 L263.65,154.06 L262.94,154.30 L262.23,154.54 L261.54,154.83 L260.85,155.11 L260.13,155.32 L259.43,155.58 L258.75,155.88 L258.04,156.13 L257.34,156.39 L256.66,156.70 L255.95,156.95 L255.24,157.22 L254.56,157.54 L253.84,157.78 L253.14,158.07 L252.45,158.37 L251.75,158.65 L251.05,158.94 L250.34,159.21 L249.66,159.52 L248.95,159.78 L248.25,160.07 L247.55,160.34 L246.85,160.62 L246.15,160.88 L245.45,161.16 L244.75,161.45 L244.05,161.72 L243.35,162.00 L242.65,162.29 L241.95,162.58 L241.25,162.87 L240.55,163.16 L239.85,163.45 L239.15,163.73 L238.45,164.02 L237.75,164.30 L237.05,164.59 L236.35,164.87 L235.65,165.14 L234.95,165.42 L234.25,165.69 L233.55,165.97 L232.85,166.24 L232.15,166.51 L231.45,166.79 L230.75,167.06 L230.05,167.34 L229.35,167.61 L228.65,167.89 L227.95,168.17 L227.25,168.45 L226.55,168.73 L225.85,169.00 L225.15,169.28 L224.45,169.56 L223.75,169.84 L223.05,170.12 L222.35,170.40 L221.65,170.67 L220.96,170.95 L220.26,171.23 L219.56,171.51 L218.86,171.79 L218.16,172.07 L217.46,172.35 L216.76,172.63 L216.06,172.91 L215.36,173.19 L214.66,173.47 L213.96,173.74 L213.26,174.02 L212.56,174.30 L211.86,174.58 L211.16,174.86 L210.46,175.14 L209.76,175.42 L209.06,175.70 L208.36,175.99 L207.66,176.27 L206.96,176.55 L206.26,176.83 L205.56,177.11 L204.86,177.39 L204.16,177.67 L203.46,177.95 L202.76,178.23 L202.06,178.52 L201.36,178.80 L200.66,179.08 L199.96,179.36 L199.26,179.64 L198.56,179.93 L197.86,180.21 L197.16,180.49 L196.46,180.78 L195.76,181.06 L195.06,181.34 L194.36,181.63 L193.66,181.91 L192.96,182.19 L192.26,182.48 L191.56,182.76 L190.86,183.05 L190.17,183.33 L189.47,183.61 L188.77,183.90 L188.07,184.18 L187.37,184.47 L186.67,184.76 L185.97,185.04 L185.27,185.33 L184.57,185.61 L183.87,185.90 L183.17,186.19 L182.47,186.47 L181.77,186.76 L181.07,187.05 L180.37,187.34 L179.67,187.62 L178.97,187.91 L178.27,188.20 L177.57,188.49 L176.87,188.78 L176.17,189.07 L175.47,189.35 L174.77,189.64 L174.07,189.93 L173.37,190.22 L172.67,190.51 L171.98,190.80 L171.28,191.09 L170.58,191.38 L169.88,191.68 L169.18,191.97 L168.48,192.26 L167.78,192.55 L167.08,192.84 L166.38,193.14 L165.68,193.43 L164.98,193.72 L164.28,194.01 L163.58,194.31 L162.88,194.60 L162.18,194.90 L161.48,195.19 L160.78,195.49 L160.08,195.78 L159.38,196.08 L158.68,196.37 L157.98,196.67 L157.29,196.96 L156.59,197.26 L155.89,197.56 L155.19,197.85 L154.49,198.15 L153.79,198.45 L153.09,198.75 L152.39,199.05 L151.69,199.35 L150.99,199.64 L150.29,199.94 L149.59,200.24 L148.89,200.54 L148.19,200.84 L147.49,201.15 L146.79,201.45 L146.09,201.75 L145.39,202.05 L144.70,202.35 L144.00,202.65 L143.30,202.96 L142.60,203.26 L141.90,203.56 L141.20,203.87 L140.50,204.17 L139.80,204.48 L139.10,204.78 L138.40,205.09 L137.70,205.39 L137.00,205.70 L136.30,206.01 L135.60,206.31 L134.90,206.62 L134.20,206.93 L133.51,207.24 L132.81,207.55 L132.11,207.85 L131.41,208.16 L130.71,208.47 L130.01,208.78 L129.31,209.09 L128.61,209.41 L127.91,209.72 L127.21,210.03 L126.51,210.34 L125.81,210.65 L125.11,210.97 L124.41,211.28 L123.71,211.59 L123.02,211.91 L122.32,212.22 L121.62,212.54 L120.92,212.85 L120.22,213.17 L119.52,213.49 L118.82,213.80 L118.12,214.12 L117.42,214.44 L116.72,214.76 L116.02,215.08 L115.32,215.40 L114.62,215.72 L113.92,216.04 L113.23,216.36 L112.53,216.68 L111.83,217.00 L111.13,217.32 L110.43,217.64 L109.73,217.97 L109.03,218.29 L108.33,218.61 L107.63,218.94 L106.93,219.26 L106.23,219.59 L105.53,219.91 L104.83,220.24 L104.14,220.57 L103.44,220.90 L102.74,221.22 L102.04,221.55 L101.34,221.88 L100.64,222.21 L99.94,222.54 L99.24,222.87 L98.54,223.20 L97.84,223.53 L97.14,223.87 L96.44,224.20 L95.75,224.53 L95.05,224.86 L94.35,225.20 L93.65,225.53 L92.95,225.87 L92.25,226.20 L91.55,226.54 L90.85,226.88 L90.15,227.21 L89.45,227.55 L88.75,227.89 L88.06,228.23 L87.36,228.57 L86.66,228.91 L85.96,229.25 L85.26,229.59 L84.56,229.93 L83.86,230.28 L83.16,230.62 L82.46,230.96 L81.76,231.31 L81.06,231.65 L80.36,232.00 L79.67,232.34 Z" fill="#00f" stroke="none"/>
<circle cx="379.50" cy="107.89" r="5.6" fill="#00f"/>
<circle cx="379.50" cy="107.89" r="3.7" fill="none" stroke="#a0a0ff" stroke-width="0.9" stroke-dasharray="4 2 3 2.5"/>
<circle cx="439.28" cy="84.79" r="5.6" fill="#00f"/>
<circle cx="439.28" cy="84.79" r="3.7" fill="none" stroke="#a0a0ff" stroke-width="0.9" stroke-dasharray="4 2 3 2.5"/>
<circle cx="499.07" cy="62.48" r="5.6" fill="#00f"/>
<circle cx="499.07" cy="62.48" r="3.7" fill="none" stroke="#a0a0ff" stroke-width="0.9" stroke-dasharray="4 2 3 2.5"/>
<circle cx="558.85" cy="42.23" r="5.6" fill="#00f"/>
<circle cx="558.85" cy="42.23" r="3.7" fill="none" stroke="#a0a0ff" stroke-width="0.9" stroke-dasharray="4 2 3 2.5"/>
</g>
<rect x="79.90" y="8.30" width="557.80" height="362.40" fill="none" stroke="#000" stroke-width="1.85"/>
<path d="M101.87,370.70v-6.4M101.87,8.30v6.4M121.12,370.70v-6.4M121.12,8.30v6.4M136.84,370.70v-6.4M136.84,8.30v6.4M150.14,370.70v-6.4M150.14,8.30v6.4M161.65,370.70v-6.4M161.65,8.30v6.4M171.81,370.70v-6.4M171.81,8.30v6.4M180.90,370.70v-12.5M180.90,8.30v12.5M240.68,370.70v-6.4M240.68,8.30v6.4M275.66,370.70v-6.4M275.66,8.30v6.4M300.47,370.70v-6.4M300.47,8.30v6.4M319.72,370.70v-6.4M319.72,8.30v6.4M335.44,370.70v-6.4M335.44,8.30v6.4M348.74,370.70v-6.4M348.74,8.30v6.4M360.25,370.70v-6.4M360.25,8.30v6.4M370.41,370.70v-6.4M370.41,8.30v6.4M379.50,370.70v-12.5M379.50,8.30v12.5M439.28,370.70v-6.4M439.28,8.30v6.4M474.26,370.70v-6.4M474.26,8.30v6.4M499.07,370.70v-6.4M499.07,8.30v6.4M518.32,370.70v-6.4M518.32,8.30v6.4M534.04,370.70v-6.4M534.04,8.30v6.4M547.34,370.70v-6.4M547.34,8.30v6.4M558.85,370.70v-6.4M558.85,8.30v6.4M569.01,370.70v-6.4M569.01,8.30v6.4M578.10,370.70v-12.5M578.10,8.30v12.5M637.88,370.70v-6.4M637.88,8.30v6.4M79.90,370.70h12.5M637.70,370.70h-12.5M79.90,343.43h6.4M637.70,343.43h-6.4M79.90,327.47h6.4M637.70,327.47h-6.4M79.90,316.15h6.4M637.70,316.15h-6.4M79.90,307.37h6.4M637.70,307.37h-6.4M79.90,300.20h6.4M637.70,300.20h-6.4M79.90,294.13h6.4M637.70,294.13h-6.4M79.90,288.88h6.4M637.70,288.88h-6.4M79.90,284.25h6.4M637.70,284.25h-6.4M79.90,280.10h12.5M637.70,280.10h-12.5M79.90,252.83h6.4M637.70,252.83h-6.4M79.90,236.87h6.4M637.70,236.87h-6.4M79.90,225.55h6.4M637.70,225.55h-6.4M79.90,216.77h6.4M637.70,216.77h-6.4M79.90,209.60h6.4M637.70,209.60h-6.4M79.90,203.53h6.4M637.70,203.53h-6.4M79.90,198.28h6.4M637.70,198.28h-6.4M79.90,193.65h6.4M637.70,193.65h-6.4M79.90,189.50h12.5M637.70,189.50h-12.5M79.90,162.23h6.4M637.70,162.23h-6.4M79.90,146.27h6.4M637.70,146.27h-6.4M79.90,134.95h6.4M637.70,134.95h-6.4M79.90,126.17h6.4M637.70,126.17h-6.4M79.90,119.00h6.4M637.70,119.00h-6.4M79.90,112.93h6.4M637.70,112.93h-6.4M79.90,107.68h6.4M637.70,107.68h-6.4M79.90,103.05h6.4M637.70,103.05h-6.4M79.90,98.90h12.5M637.70,98.90h-12.5M79.90,71.63h6.4M637.70,71.63h-6.4M79.90,55.67h6.4M637.70,55.67h-6.4M79.90,44.35h6.4M637.70,44.35h-6.4M79.90,35.57h6.4M637.70,35.57h-6.4M79.90,28.40h6.4M637.70,28.40h-6.4M79.90,22.33h6.4M637.70,22.33h-6.4M79.90,17.08h6.4M637.70,17.08h-6.4M79.90,12.45h6.4M637.70,12.45h-6.4M79.90,8.30h12M637.70,8.30h-12" stroke="#000" stroke-width="1.65" fill="none"/>
<text transform="translate(161.39,394.08) scale(0.957,1)" font-family="Liberation Serif" font-style="normal" font-size="21.03" fill="#000" stroke="#fff" stroke-width="0.20">10</text><text transform="translate(180.97,388.59) scale(1.194,1)" font-family="Liberation Serif" font-style="normal" font-size="15.50" fill="#000">−</text><text transform="translate(192.06,387.10) scale(1.114,1)" font-family="Liberation Serif" font-style="normal" font-size="13.33" fill="#000" stroke="#fff" stroke-width="0.20">1</text>
<text transform="translate(365.24,394.08) scale(0.957,1)" font-family="Liberation Serif" font-style="normal" font-size="21.03" fill="#000" stroke="#fff" stroke-width="0.20">10</text><text transform="translate(385.16,386.84) scale(1.124,1)" font-family="Liberation Serif" font-style="normal" font-size="13.13" fill="#000" stroke="#fff" stroke-width="0.20">0</text>
<text transform="translate(564.49,394.08) scale(0.957,1)" font-family="Liberation Serif" font-style="normal" font-size="21.03" fill="#000" stroke="#fff" stroke-width="0.20">10</text><text transform="translate(584.12,387.10) scale(0.986,1)" font-family="Liberation Serif" font-style="normal" font-size="13.33" fill="#000" stroke="#fff" stroke-width="0.20">1</text>
<text transform="translate(34.29,378.08) scale(0.957,1)" font-family="Liberation Serif" font-style="normal" font-size="21.03" fill="#000" stroke="#fff" stroke-width="0.20">10</text><text transform="translate(53.87,372.59) scale(1.194,1)" font-family="Liberation Serif" font-style="normal" font-size="15.50" fill="#000">−</text><text transform="translate(64.99,370.97) scale(1.061,1)" font-family="Liberation Serif" font-style="normal" font-size="13.33" fill="#000" stroke="#fff" stroke-width="0.20">3</text>
<text transform="translate(34.29,287.48) scale(0.957,1)" font-family="Liberation Serif" font-style="normal" font-size="21.03" fill="#000" stroke="#fff" stroke-width="0.20">10</text><text transform="translate(53.87,281.99) scale(1.194,1)" font-family="Liberation Serif" font-style="normal" font-size="15.50" fill="#000">−</text><text transform="translate(65.12,280.50) scale(1.071,1)" font-family="Liberation Serif" font-style="normal" font-size="13.54" fill="#000" stroke="#fff" stroke-width="0.20">2</text>
<text transform="translate(33.99,196.88) scale(0.957,1)" font-family="Liberation Serif" font-style="normal" font-size="21.03" fill="#000" stroke="#fff" stroke-width="0.20">10</text><text transform="translate(53.57,191.39) scale(1.194,1)" font-family="Liberation Serif" font-style="normal" font-size="15.50" fill="#000">−</text><text transform="translate(64.66,189.90) scale(1.114,1)" font-family="Liberation Serif" font-style="normal" font-size="13.33" fill="#000" stroke="#fff" stroke-width="0.20">1</text>
<text transform="translate(44.79,106.28) scale(0.957,1)" font-family="Liberation Serif" font-style="normal" font-size="21.03" fill="#000" stroke="#fff" stroke-width="0.20">10</text><text transform="translate(64.71,99.04) scale(1.124,1)" font-family="Liberation Serif" font-style="normal" font-size="13.13" fill="#000" stroke="#fff" stroke-width="0.20">0</text>
<text transform="translate(45.79,15.68) scale(0.957,1)" font-family="Liberation Serif" font-style="normal" font-size="21.03" fill="#000" stroke="#fff" stroke-width="0.20">10</text><text transform="translate(65.42,8.70) scale(0.986,1)" font-family="Liberation Serif" font-style="normal" font-size="13.33" fill="#000" stroke="#fff" stroke-width="0.20">1</text>
<g stroke-width="3"><path d="M96.4,34.4H139.1" stroke="#000"/><path d="M96.4,64.0H139.1" stroke="#f00"/><path d="M96.4,93.0H139.1" stroke="#00f"/></g>
<text transform="translate(154.06,41.31) scale(0.977,1)" font-family="Liberation Sans" font-style="normal" font-size="19.01" fill="#000">3D</text>
<text transform="translate(184.40,41.31) scale(0.898,1)" font-family="Liberation Sans" font-style="normal" font-size="19.05" fill="#000">linear</text>
<text transform="translate(153.65,71.00) scale(0.991,1)" font-family="Liberation Sans" font-style="normal" font-size="19.57" fill="#000">1D</text>
<text transform="translate(184.61,70.81) scale(0.894,1)" font-family="Liberation Sans" font-style="normal" font-size="19.05" fill="#000">linear</text>
<text transform="translate(153.67,100.40) scale(1.019,1)" font-family="Liberation Sans" font-style="normal" font-size="19.42" fill="#000">1D</text>
<text transform="translate(184.15,100.21) scale(0.967,1)" font-family="Liberation Sans" font-style="normal" font-size="18.92" fill="#000">simulation</text>
<text transform="translate(370.37,139.40) scale(1.073,1)" font-family="Liberation Serif" font-style="italic" font-size="22.75" fill="#00f">k</text>
<text transform="translate(381.44,142.13) scale(1.103,1)" font-family="Liberation Serif" font-style="italic" font-size="17.29" fill="#00f">max</text>
<text transform="translate(292.27,424.20) scale(1.104,1)" font-family="Liberation Serif" font-style="italic" font-size="25.07" fill="#000" stroke="#fff" stroke-width="0.20">k</text>
<text transform="translate(314.57,424.71) scale(0.951,1)" font-family="Liberation Serif" font-style="normal" font-size="27.11" fill="#000" stroke="#fff" stroke-width="0.20">(</text>
<text transform="translate(322.56,424.20) scale(1.187,1)" font-family="Liberation Serif" font-style="italic" font-size="25.07" fill="#000" stroke="#fff" stroke-width="0.20">h</text>
<text transform="translate(345.54,424.00) scale(0.974,1)" font-family="Liberation Serif" font-style="normal" font-size="25.85" fill="#000" stroke="#fff" stroke-width="0.20">M</text>
<text transform="translate(367.63,423.54) scale(1.178,1)" font-family="Liberation Serif" font-style="normal" font-size="24.12" fill="#000" stroke="#fff" stroke-width="0.20">p</text>
<text transform="translate(381.68,423.95) scale(1.033,1)" font-family="Liberation Serif" font-style="normal" font-size="24.58" fill="#000" stroke="#fff" stroke-width="0.20">c</text>
<text transform="translate(392.79,417.13) scale(1.470,1)" font-family="Liberation Serif" font-style="normal" font-size="16.50" fill="#000">−</text>
<text transform="translate(405.88,414.80) scale(1.200,1)" font-family="Liberation Serif" font-style="normal" font-size="15.00" fill="#000" stroke="#fff" stroke-width="0.20">1</text>
<text transform="translate(416.75,424.51) scale(0.794,1)" font-family="Liberation Serif" font-style="normal" font-size="27.11" fill="#000" stroke="#fff" stroke-width="0.20">)</text>
<g transform="rotate(-90)"><text transform="translate(-296.77,20.70) scale(0.986,1)" font-family="Liberation Serif" font-style="italic" font-size="25.94" fill="#000" stroke="#fff" stroke-width="0.20">k</text><text transform="translate(-285.31,10.25) scale(1.323,1)" font-family="Liberation Serif" font-style="normal" font-size="15.30" fill="#000" stroke="#fff" stroke-width="0.20">3</text><text transform="translate(-273.20,20.70) scale(1.063,1)" font-family="Liberation Serif" font-style="italic" font-size="26.46" fill="#000" stroke="#fff" stroke-width="0.20">P</text><text transform="translate(-259.14,24.20) scale(0.857,1)" font-family="Liberation Serif" font-style="italic" font-size="17.10" fill="#000" stroke="#fff" stroke-width="0.20">k</text><text transform="translate(-249.50,25.93) scale(1.067,1)" font-family="Liberation Serif" font-style="normal" font-size="36.82" fill="#000" stroke="#fff" stroke-width="0.20">/</text><text transform="translate(-237.17,20.70) scale(1.145,1)" font-family="Liberation Serif" font-style="normal" font-size="25.54" fill="#000" stroke="#fff" stroke-width="0.20">2</text><text transform="translate(-222.39,20.66) scale(0.798,1)" font-family="Liberation Serif" font-style="italic" font-size="23.83" fill="#000" stroke="#fff" stroke-width="0.20">π</text><text transform="translate(-210.60,10.80) scale(1.420,1)" font-family="Liberation Serif" font-style="normal" font-size="15.85" fill="#000" stroke="#fff" stroke-width="0.20">2</text><text transform="translate(-199.00,20.74) scale(0.617,1)" font-family="Liberation Serif" font-style="normal" font-size="32.40" fill="#000" stroke="#fff" stroke-width="0.20">,</text><text transform="translate(-164.42,20.70) scale(1.058,1)" font-family="Liberation Serif" font-style="italic" font-size="25.94" fill="#000" stroke="#fff" stroke-width="0.20">k</text><text transform="translate(-150.40,20.70) scale(1.108,1)" font-family="Liberation Serif" font-style="italic" font-size="26.46" fill="#000" stroke="#fff" stroke-width="0.20">P</text><text transform="translate(-135.18,27.60) scale(1.074,1)" font-family="Liberation Serif" font-style="italic" font-size="17.97" fill="#000" stroke="#fff" stroke-width="0.20">k</text><text transform="translate(-130.81,10.60) scale(0.866,1)" font-family="Liberation Serif" font-style="normal" font-size="16.82" fill="#000" stroke="#fff" stroke-width="0.20">1</text><text transform="translate(-121.52,11.00) scale(1.013,1)" font-family="Liberation Serif" font-style="italic" font-size="17.69" fill="#000" stroke="#fff" stroke-width="0.20">D</text><text transform="translate(-106.00,25.93) scale(1.077,1)" font-family="Liberation Serif" font-style="normal" font-size="36.82" fill="#000" stroke="#fff" stroke-width="0.20">/</text><text transform="translate(-94.46,20.66) scale(1.086,1)" font-family="Liberation Serif" font-style="italic" font-size="23.83" fill="#000" stroke="#fff" stroke-width="0.20">π</text></g>
</svg></body></html>
